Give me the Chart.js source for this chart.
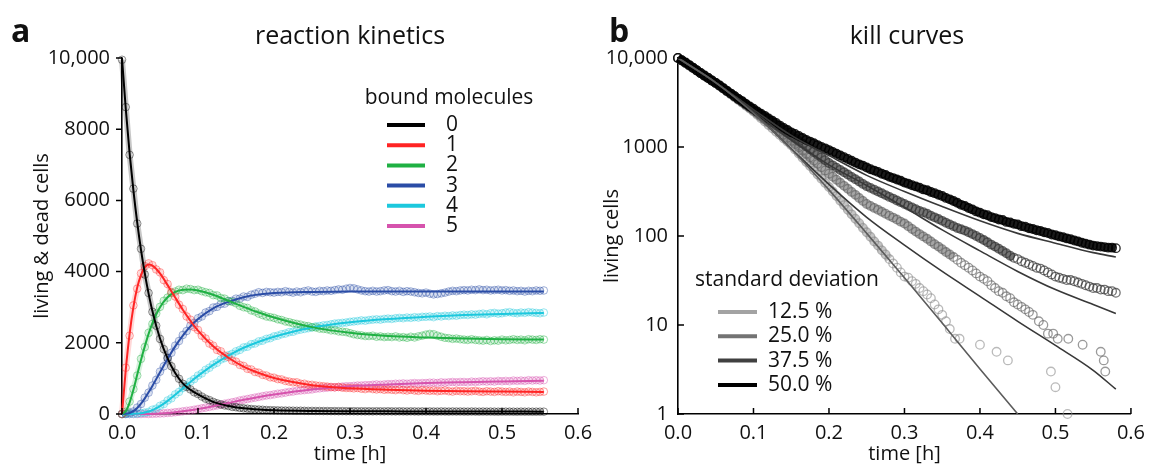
<!DOCTYPE html>
<html>
<head>
<meta charset="utf-8">
<script src="https://cdn.jsdelivr.net/npm/chart.js@4"></script>
<style>
  body { margin: 0; background: #fff; width: 1152px; height: 466px; position: relative; overflow: hidden; }
  canvas { position: absolute; top: 0; }
  #kinetics { left: 0; }
  #kill { left: 590px; }
</style>
</head>
<body>
<canvas id="kinetics" width="600" height="466"></canvas>
<canvas id="kill" width="562" height="466"></canvas>
<script>
// ---- panel a: reaction kinetics ----
// sample times of the simulated points [h]
const obsTime = [
  0, .005, .01, .015, .02, .025, .03, .035, .04, .045,
  .05, .055, .06, .065, .07, .075, .08, .085, .09, .095,
  .1, .105, .11, .115, .12, .125, .13, .135, .14, .145,
  .15, .155, .16, .165, .17, .175, .18, .185, .19, .195,
  .2, .205, .21, .215, .22, .225, .23, .235, .24, .245,
  .25, .255, .26, .265, .27, .275, .28, .285, .29, .295,
  .3, .305, .31, .315, .32, .325, .33, .335, .34, .345,
  .35, .355, .36, .365, .37, .375, .38, .385, .39, .395,
  .4, .405, .41, .415, .42, .425, .43, .435, .44, .445,
  .45, .455, .46, .465, .47, .475, .48, .485, .49, .495,
  .5, .505, .51, .515, .52, .525, .53, .535, .54, .545,
  .55, .555
];

// cells with 0..5 bound molecules (circles)
const obsBound0 = [
  9950, 8620, 7280, 6330, 5350, 4640, 3920, 3400, 2870, 2480,
  2110, 1820, 1570, 1340, 1150, 990, 850, 760, 690, 610,
  560, 490, 430, 390, 340, 300, 270, 240, 225, 200,
  190, 170, 160, 150, 140, 130, 125, 118, 112, 108,
  104, 102, 98, 96, 95, 93, 90, 92, 88, 86,
  87, 84, 85, 82, 83, 80, 81, 79, 80, 77,
  78, 78, 76, 77, 75, 76, 74, 77, 75, 73,
  76, 74, 72, 75, 73, 71, 74, 72, 70, 73,
  71, 72, 70, 69, 72, 70, 68, 71, 69, 70,
  68, 67, 70, 68, 66, 69, 67, 68, 66, 65,
  68, 66, 67, 65, 64, 67, 65, 66, 64, 65,
  66, 65
];
const obsBound1 = [
  0, 1300, 2200, 3050, 3520, 3950, 4150, 4230, 4180, 4060,
  3980, 3760, 3650, 3420, 3300, 3070, 2950, 2740, 2650, 2440,
  2360, 2200, 2120, 1980, 1920, 1800, 1760, 1640, 1600, 1500,
  1470, 1380, 1350, 1270, 1250, 1180, 1160, 1100, 1080, 1030,
  1020, 980, 970, 930, 910, 890, 890, 850, 850, 820,
  820, 800, 790, 780, 770, 760, 750, 760, 740, 730,
  730, 720, 730, 710, 700, 720, 700, 690, 700, 680,
  690, 680, 670, 690, 670, 660, 680, 660, 650, 670,
  660, 650, 660, 640, 650, 660, 640, 630, 650, 640,
  640, 630, 640, 650, 630, 620, 640, 630, 620, 640,
  630, 620, 630, 610, 630, 620, 610, 630, 620, 610,
  620, 630
];
const obsBound2 = [
  0, 60, 350, 700, 1080, 1550, 1880, 2280, 2530, 2820,
  3010, 3180, 3270, 3400, 3440, 3490, 3480, 3520, 3510, 3480,
  3490, 3450, 3420, 3400, 3340, 3330, 3260, 3240, 3170, 3150,
  3110, 3040, 3000, 2980, 2910, 2880, 2820, 2780, 2740, 2720,
  2700, 2660, 2640, 2600, 2580, 2550, 2530, 2510, 2480, 2470,
  2440, 2430, 2400, 2390, 2380, 2350, 2350, 2320, 2310, 2300,
  2270, 2240, 2220, 2210, 2190, 2190, 2200, 2170, 2180, 2160,
  2170, 2160, 2180, 2150, 2160, 2140, 2170, 2150, 2180, 2200,
  2230, 2250, 2240, 2200, 2170, 2140, 2130, 2110, 2120, 2100,
  2090, 2080, 2100, 2080, 2070, 2060, 2080, 2050, 2070, 2060,
  2090, 2070, 2080, 2100, 2080, 2090, 2070, 2100, 2090, 2080,
  2100, 2090
];
const obsBound3 = [
  0, 10, 40, 70, 180, 280, 460, 600, 800, 960,
  1190, 1340, 1570, 1720, 1920, 2050, 2220, 2330, 2480, 2560,
  2690, 2740, 2850, 2890, 2990, 3010, 3090, 3100, 3170, 3180,
  3240, 3240, 3300, 3290, 3350, 3380, 3420, 3400, 3430, 3420,
  3410, 3430, 3420, 3450, 3430, 3410, 3440, 3420, 3450, 3470,
  3440, 3430, 3460, 3450, 3470, 3460, 3480, 3500, 3490, 3520,
  3540, 3530, 3500, 3470, 3450, 3440, 3460, 3440, 3450, 3470,
  3480, 3450, 3440, 3460, 3430, 3450, 3440, 3420, 3400, 3390,
  3410, 3380, 3360, 3370, 3390, 3410, 3440, 3460, 3450, 3470,
  3480, 3470, 3490, 3480, 3500, 3480, 3490, 3470, 3480, 3490,
  3470, 3480, 3460, 3470, 3450, 3460, 3440, 3460, 3450, 3470,
  3460, 3470
];
const obsBound4 = [
  0, 0, 0, 5, 10, 25, 40, 60, 120, 150,
  230, 280, 380, 440, 550, 620, 730, 800, 910, 980,
  1080, 1140, 1240, 1300, 1390, 1440, 1530, 1570, 1650, 1690,
  1760, 1800, 1870, 1890, 1960, 1980, 2040, 2060, 2110, 2130,
  2180, 2200, 2240, 2260, 2300, 2310, 2350, 2370, 2390, 2410,
  2430, 2460, 2470, 2490, 2500, 2520, 2540, 2550, 2560, 2570,
  2590, 2600, 2610, 2630, 2620, 2640, 2650, 2660, 2650, 2670,
  2680, 2670, 2690, 2700, 2690, 2710, 2700, 2720, 2710, 2730,
  2730, 2740, 2720, 2750, 2740, 2760, 2750, 2770, 2760, 2780,
  2790, 2780, 2800, 2790, 2810, 2820, 2800, 2830, 2840, 2820,
  2830, 2850, 2860, 2840, 2830, 2850, 2840, 2860, 2850, 2840,
  2830, 2850
];
const obsBound5 = [
  0, 0, 0, 0, 0, 0, 5, 0, 5, 10,
  15, 20, 30, 35, 50, 60, 75, 90, 100, 120,
  140, 160, 180, 200, 220, 240, 260, 290, 310, 330,
  350, 380, 400, 420, 440, 460, 480, 500, 520, 530,
  550, 570, 580, 600, 620, 630, 650, 660, 670, 680,
  690, 710, 720, 730, 740, 750, 750, 760, 770, 780,
  780, 790, 800, 800, 810, 810, 820, 830, 820, 830,
  840, 840, 850, 850, 860, 850, 860, 870, 860, 870,
  870, 880, 880, 870, 890, 880, 890, 900, 890, 900,
  900, 890, 910, 900, 910, 920, 910, 920, 910, 930,
  920, 930, 920, 940, 930, 940, 930, 950, 940, 950,
  940, 950
];

// fitted model curves (lines)
const fitTime = [0, .005, .01, .015, .02, .025, .03, .035, .04, .05, .06, .07, .08, .09, .1,
  .12, .14, .16, .18, .2, .25, .3, .35, .4, .45, .5, .555];
const fitBound0 = [10000, 8560, 7330, 6280, 5380, 4610, 3950, 3380, 2890, 2120, 1560, 1150, 860, 680, 550,
  340, 225, 160, 125, 105, 85, 78, 75, 72, 70, 68, 66];
const fitBound1 = [0, 1250, 2250, 3000, 3550, 3900, 4120, 4200, 4170, 3950, 3620, 3270, 2930, 2620, 2340,
  1900, 1580, 1330, 1150, 1010, 810, 720, 680, 655, 640, 630, 620];
const fitBound2 = [0, 80, 320, 680, 1100, 1520, 1900, 2250, 2550, 3000, 3280, 3430, 3490, 3500, 3470,
  3350, 3180, 3010, 2850, 2710, 2440, 2280, 2190, 2150, 2120, 2100, 2090];
const fitBound3 = [0, 5, 30, 80, 170, 290, 440, 610, 790, 1170, 1550, 1900, 2200, 2460, 2670,
  2970, 3150, 3280, 3360, 3400, 3430, 3440, 3440, 3440, 3440, 3440, 3440];
const fitBound4 = [0, 0, 0, 5, 10, 20, 40, 70, 110, 220, 370, 540, 720, 900, 1070,
  1380, 1640, 1860, 2030, 2170, 2430, 2580, 2670, 2730, 2780, 2810, 2840];
const fitBound5 = [0, 0, 0, 0, 0, 0, 0, 0, 5, 15, 30, 50, 75, 105, 140,
  220, 310, 400, 480, 550, 690, 780, 830, 870, 895, 915, 935];

const boundLabels = ['0', '1', '2', '3', '4', '5'];
const boundColors = ['#000000', '#ff2424', '#1fb043', '#2a4ca6', '#1cc8dd', '#d653ad'];
const boundDots = ['rgba(0,0,0,0.45)', 'rgba(255,40,40,0.45)', 'rgba(30,175,65,0.45)',
  'rgba(40,75,165,0.45)', 'rgba(30,200,220,0.45)', 'rgba(215,80,175,0.45)'];
const boundBands = ['rgba(0,0,0,0.22)', 'rgba(255,40,40,0.18)', 'rgba(30,175,65,0.18)',
  'rgba(40,75,165,0.18)', 'rgba(30,200,220,0.2)', 'rgba(215,80,175,0.2)'];

// ---- panel b: kill curves ----
const killGrid = obsTime.slice(0, 61); // 0 ... 0.3 h
const killTime = obsTime.concat([.56, .565, .57, .575, .58]);
const killTimeA = obsTime.slice(0, 73).concat([.367, .373, .4, .422, .437, .494, .5, .516]);
const killTimeB = obsTime.slice(0, 95).concat([.478, .484, .49, .497, .503, .517, .536, .56, .564, .566]);

const kill12 = [
  10000, 9370, 8790, 8220, 7710, 7240, 6770, 6360, 5950, 5590,
  5250, 4875, 4529, 4207, 3908, 3631, 3373, 3133, 2911, 2704,
  2512, 2301, 2109, 1932, 1770, 1622, 1486, 1361, 1247, 1143,
  1047, 940, 843, 757, 679, 610, 547, 491, 441, 395,
  355, 316, 281, 249, 222, 197, 175, 156, 139, 123,
  110, 98, 87, 78, 69, 62, 55, 49, 44, 39,
  35,
  34, 31, 29, 26, 24, 22, 20, 17, 15, 13, 11, 9,
  7, 7, 6, 5, 4, 3, 2, 1
];
const kill25 = [
  10000, 9380, 8800, 8230, 7720, 7250, 6780, 6370, 5960, 5600,
  5250, 4887, 4550, 4236, 3945, 3673, 3420, 3184, 2965, 2761,
  2570, 2377, 2198, 2032, 1879, 1738, 1607, 1486, 1374, 1271,
  1175, 1079, 991, 910, 836, 767, 705, 647, 594, 546,
  501, 463, 429, 396, 366, 339, 313, 290, 268, 248,
  229, 218, 207, 197, 187, 178, 169, 161, 153, 145,
  138,
  129, 120, 112, 105, 99, 93, 87, 81, 76, 71,
  66, 62, 58, 54, 50, 47, 44, 41, 38, 35,
  33, 31, 28, 26, 24, 23, 21, 20, 18, 17,
  16, 15, 14, 13,
  11, 10, 8, 8, 7, 7, 6, 5, 4, 3
];
const kill37 = [
  10000, 9380, 8790, 8240, 7730, 7240, 6790, 6370, 5970, 5600,
  5250, 4900, 4570, 4270, 3980, 3720, 3470, 3240, 3020, 2820,
  2630, 2460, 2300, 2150, 2010, 1880, 1760, 1650, 1540, 1440,
  1350, 1256, 1169, 1089, 1014, 944, 879, 818, 762, 710,
  661, 622, 586, 552, 520, 490, 461, 435, 409, 385,
  363, 347, 331, 316, 302, 288, 275, 263, 251, 240,
  229,
  219, 209, 200, 191, 185, 178, 169, 162, 155, 148,
  141, 135, 129, 123, 119, 115, 110, 105, 100, 95,
  90, 85, 80, 76, 72, 68, 64, 60, 57, 55,
  52, 50, 48, 46, 44, 43, 41, 39, 37, 35,
  34, 33, 32, 32, 31, 30, 29, 28, 27, 26,
  26, 25, 25, 24, 24, 23
];
const kill50 = [
  10000, 9440, 8910, 8320, 7760, 7240, 6760, 6310, 5960, 5560,
  5250, 4900, 4570, 4270, 3980, 3720, 3470, 3270, 3050, 2850,
  2690, 2510, 2370, 2240, 2090, 1970, 1860, 1740, 1640, 1550,
  1460, 1400, 1330, 1260, 1200, 1150, 1100, 1050, 1000, 966,
  923, 881, 841, 804, 767, 733, 700, 668, 638, 617,
  589, 562, 543, 525, 501, 484, 462, 447, 431, 417,
  398,
  386, 372, 361, 349, 334, 326, 312, 303, 291, 282,
  268, 258, 247, 236, 224, 217, 206, 199, 189, 183,
  175, 171, 163, 159, 153, 151, 144, 142, 137, 135,
  129, 127, 122, 120, 116, 114, 110, 108, 104, 102,
  99, 97, 94, 92, 89, 87, 84, 82, 80, 78,
  77, 76, 75, 74, 74, 73
];

const killFitTime = [0, .05, .1, .15, .2, .25, .3, .35, .4, .45, .5, .55, .58];
const killFit12 = [10000, 5300, 2400, 950, 330, 107, 34, 10.5, 3.2, 1];
const killFit25 = [10000, 5300, 2450, 955, 380, 162, 79, 40, 21, 11, 5.9, 3.1, 1.9];
const killFit37 = [10000, 5300, 2520, 1200, 630, 370, 210, 117, 68, 40, 25, 17, 13.5];
const killFit50 = [10000, 5300, 2630, 1350, 800, 480, 316, 214, 148, 107, 83, 65, 58];

const sdLabels = ['12.5 %', '25.0 %', '37.5 %', '50.0 %'];
const sdColors = ['#a3a3a3', '#737373', '#404040', '#000000'];
const sdDots = ['rgba(140,140,140,0.6)', 'rgba(100,100,100,0.65)', 'rgba(55,55,55,0.7)', 'rgba(0,0,0,0.85)'];
const sdBands = ['rgba(150,150,150,0.55)', 'rgba(105,105,105,0.6)', 'rgba(55,55,55,0.7)', 'rgba(0,0,0,0.9)'];
const logTicks = [1, 10, 100, 1000, 10000];

// ---- helpers ----
const FONT = '"Open Sans", "Noto Sans", sans-serif';
const pts = (xs, ys) => ys.map((y, i) => ({ x: xs[i], y: y }));
const HIDE = 'rgba(0,0,0,0)';

const decor = {
  id: 'decor',
  afterDraw(chart, args, o) {
    const ctx = chart.ctx;
    const xs = chart.scales.x, ys = chart.scales.y;
    ctx.save();
    // tick marks
    ctx.strokeStyle = '#000';
    ctx.lineWidth = 1.5;
    ctx.beginPath();
    xs.ticks.forEach(t => {
      const p = xs.getPixelForValue(t.value);
      ctx.moveTo(p, xs.top);
      ctx.lineTo(p, xs.top - 6);
    });
    ys.ticks.forEach(t => {
      const p = ys.getPixelForValue(t.value);
      ctx.moveTo(ys.right, p);
      ctx.lineTo(ys.right + o.yTickDir * 6, p);
    });
    ctx.stroke();

    // panel letter and title
    ctx.fillStyle = '#111';
    ctx.textBaseline = 'alphabetic';
    ctx.textAlign = 'left';
    ctx.font = 'bold 32px ' + FONT;
    ctx.fillText(o.letter, o.letterX, 42);
    ctx.textAlign = 'center';
    ctx.font = '25px ' + FONT;
    ctx.fillText(o.title, o.titleX, 44);

    // legend
    ctx.font = '21px ' + FONT;
    ctx.textBaseline = 'middle';
    ctx.fillText(o.legendTitle, o.legendX, o.legendY);
    ctx.textAlign = 'left';
    o.labels.forEach((lab, i) => {
      const y = o.rowY + i * o.rowGap;
      ctx.strokeStyle = o.colors[i];
      ctx.lineWidth = 4;
      ctx.beginPath();
      ctx.moveTo(o.lineX0, y);
      ctx.lineTo(o.lineX1, y);
      ctx.stroke();
      ctx.fillText(lab, o.textX, y);
    });
    ctx.restore();
  }
};

function xAxis() {
  return {
    type: 'linear', min: 0, max: 0.6,
    grid: { display: false, drawTicks: false },
    border: { color: '#000', width: 1.6 },
    ticks: { stepSize: 0.1, padding: 7, color: '#111', font: { family: FONT, size: 20 },
      callback: v => v.toFixed(1) },
    title: { display: true, text: 'time [h]', color: '#111', font: { family: FONT, size: 20 },
      padding: { top: 0, bottom: 0 } },
    afterFit: s => { s.height = 52; }
  };
}

// ---- chart a ----
const kinSets = [];
[obsBound0, obsBound1, obsBound2, obsBound3, obsBound4, obsBound5].forEach((arr, i) => {
  kinSets.push({
    data: pts(obsTime, arr), showLine: true, order: 2, clip: false,
    borderColor: boundBands[i], borderWidth: 6, tension: 0,
    pointRadius: 3.8, pointBorderWidth: 1, pointBackgroundColor: HIDE,
    pointBorderColor: boundDots[i]
  });
});
[fitBound0, fitBound1, fitBound2, fitBound3, fitBound4, fitBound5].forEach((arr, i) => {
  kinSets.push({
    label: boundLabels[i], data: pts(fitTime, arr), showLine: true, order: 1, clip: false,
    borderColor: boundColors[i], borderWidth: 2, pointRadius: 0,
    cubicInterpolationMode: 'monotone'
  });
});

new Chart(document.getElementById('kinetics'), {
  type: 'scatter',
  data: { datasets: kinSets },
  plugins: [decor],
  options: {
    responsive: false, animation: false,
    layout: { padding: { top: 58, right: 22, bottom: 0, left: 0 } },
    scales: {
      x: xAxis(),
      y: {
        type: 'linear', min: 0, max: 10000,
        grid: { display: false, drawTicks: false },
        border: { color: '#000', width: 1.6 },
        ticks: { stepSize: 2000, padding: 12, color: '#111', font: { family: FONT, size: 20 },
          callback: v => v === 10000 ? '10,000' : String(v) },
        title: { display: true, text: 'living & dead cells', color: '#111',
          font: { family: FONT, size: 20 }, padding: { top: 30, bottom: 0 } },
        afterFit: s => { s.width = 122; }
      }
    },
    plugins: {
      legend: { display: false },
      tooltip: { enabled: false },
      decor: {
        yTickDir: -1, letter: 'a', letterX: 11, title: 'reaction kinetics', titleX: 350,
        legendTitle: 'bound molecules', legendX: 449, legendY: 98,
        labels: boundLabels, colors: boundColors,
        rowY: 125, rowGap: 20.2, lineX0: 387, lineX1: 425, textX: 446
      }
    }
  }
});

// ---- chart b ----
const killSets = [];
const killTimes = [killTimeA, killTimeB, killTime, killTime];
[kill12, kill25, kill37, kill50].forEach((arr, i) => {
  killSets.push({
    data: pts(killTimes[i], arr), showLine: true, order: 5 - i, clip: false,
    borderColor: sdBands[i], borderWidth: 8, tension: 0,
    // dense stretches merge into a band, sparse late events stay single circles
    segment: {
      borderColor: c => (c.p1.parsed.x - c.p0.parsed.x > 0.0055 || c.p0.parsed.y < 60) ? HIDE : undefined
    },
    pointRadius: 4.3, pointBorderWidth: 1.3, pointBackgroundColor: HIDE,
    pointBorderColor: sdDots[i]
  });
});
[killFit12, killFit25, killFit37, killFit50].forEach((arr, i) => {
  killSets.push({
    label: sdLabels[i], data: pts(killFitTime, arr), showLine: true, order: 0, clip: false,
    borderColor: i === 0 ? '#5c5c5c' : '#383838', borderWidth: 1.6, pointRadius: 0,
    cubicInterpolationMode: 'monotone'
  });
});

new Chart(document.getElementById('kill'), {
  type: 'scatter',
  data: { datasets: killSets },
  plugins: [decor],
  options: {
    responsive: false, animation: false,
    layout: { padding: { top: 58, right: 16, bottom: 0, left: 0 } },
    scales: {
      x: xAxis(),
      y: {
        type: 'logarithmic', min: 1, max: 10000,
        grid: { display: false, drawTicks: false },
        border: { color: '#000', width: 1.6 },
        afterBuildTicks: s => { s.ticks = logTicks.map(v => ({ value: v })); },
        ticks: { padding: 10, color: '#111', font: { family: FONT, size: 20 },
          callback: v => v === 10000 ? '10,000' : String(v) },
        title: { display: true, text: 'living cells', color: '#111',
          font: { family: FONT, size: 20 }, padding: { top: 10, bottom: 0 } },
        afterFit: s => { s.width = 88; }
      }
    },
    plugins: {
      legend: { display: false },
      tooltip: { enabled: false },
      decor: {
        yTickDir: 1, letter: 'b', letterX: 19, title: 'kill curves', titleX: 317,
        legendTitle: 'standard deviation', legendX: 197, legendY: 280,
        labels: sdLabels, colors: sdColors,
        rowY: 312, rowGap: 24.3, lineX0: 128, lineX1: 167, textX: 178
      }
    }
  }
});
</script>
</body>
</html>
